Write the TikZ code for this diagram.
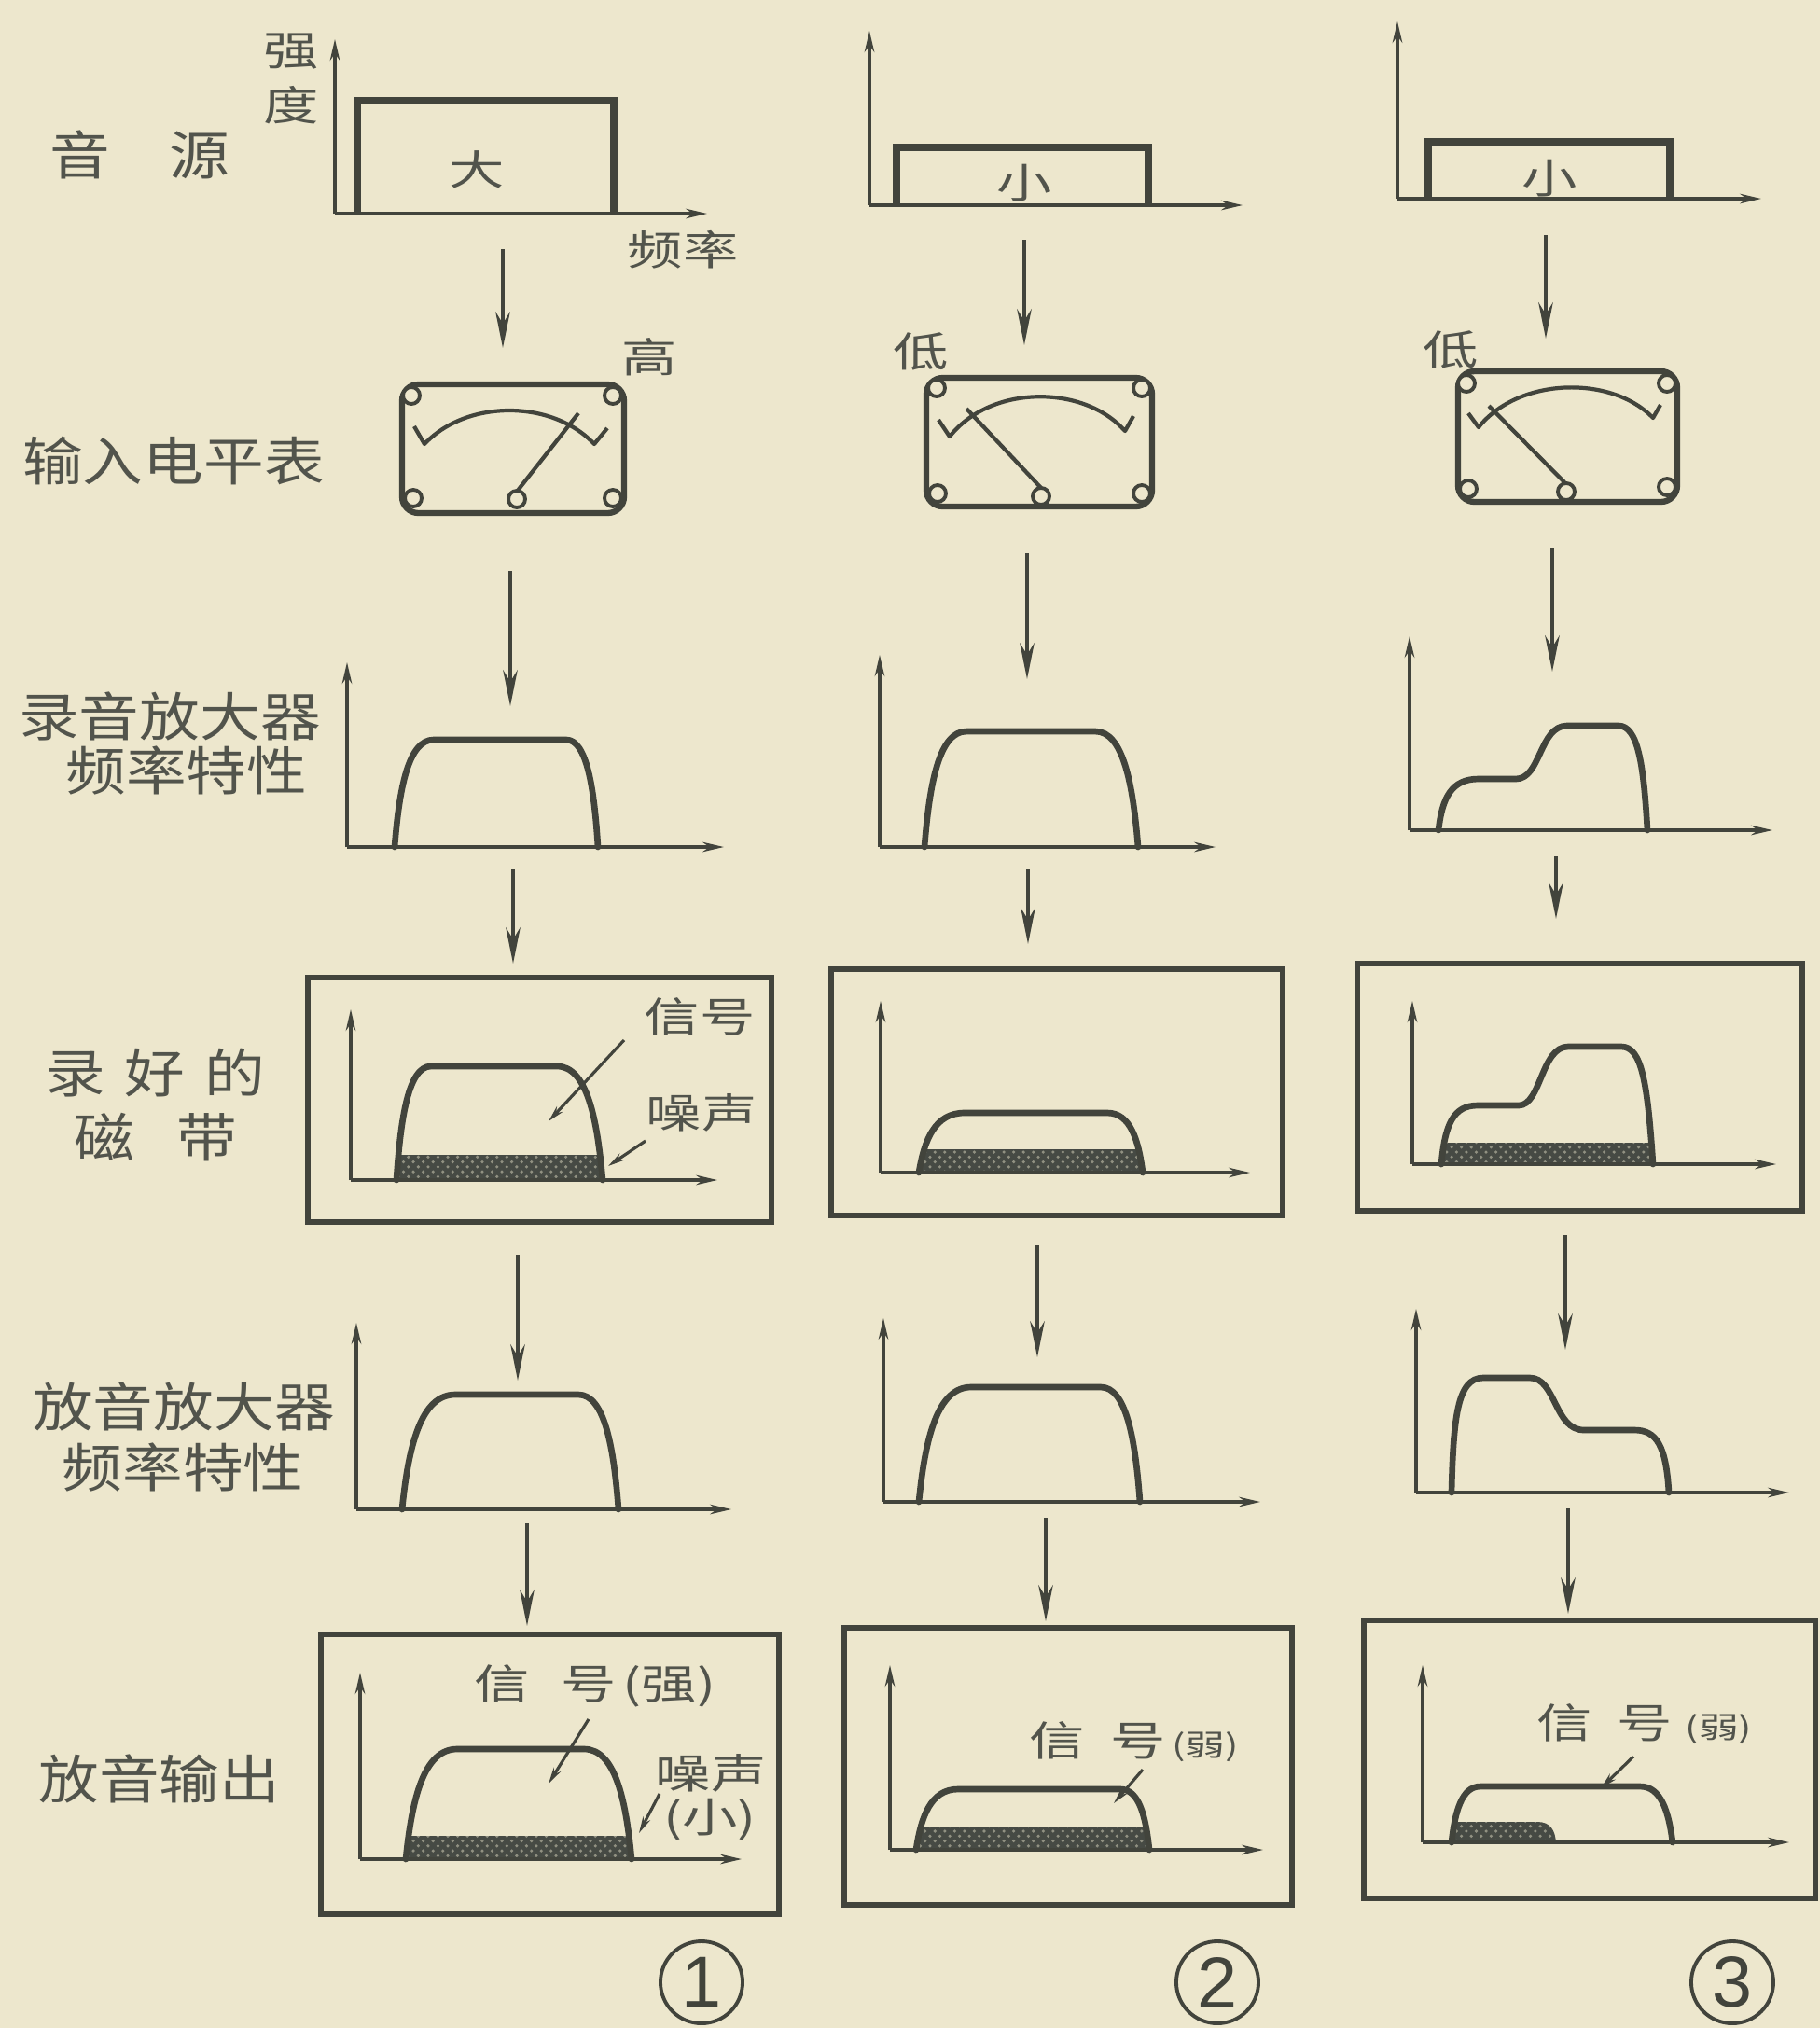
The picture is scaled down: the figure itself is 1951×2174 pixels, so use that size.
\documentclass[tikz,border=0pt]{standalone}
\usepackage{fontspec}
\usepackage{graphicx}
\setmainfont{Liberation Sans}
\newfontfamily\cjk{Noto Sans CJK SC}
\usetikzlibrary{arrows.meta,patterns}
\definecolor{paper}{RGB}{237,231,205}
\definecolor{ink}{RGB}{66,68,60}
\definecolor{txt}{RGB}{82,84,76}
\definecolor{noisec}{RGB}{70,74,68}
\newcommand\rowtext[1]{\scalebox{1.15}[1]{#1}}
\newcommand\smtext[1]{\scalebox{1.35}[1]{#1}}
\newcommand\tinyp[1]{{\fontsize{9pt}{9pt}\selectfont #1}}
% band-pass curve: x0 base-left, x1 top-left, x2 top-right, x3 base-right, yt top, yb base
\newcommand\bandcurve[6]{(#1,#6) .. controls ({#1+0.12*(#2-#1)},{#5+0.45*(#6-#5)}) and ({#1+0.35*(#2-#1)},#5) .. (#2,#5) -- (#3,#5) .. controls ({#4-0.35*(#4-#3)},#5) and ({#4-0.12*(#4-#3)},{#5+0.45*(#6-#5)}) .. (#4,#6)}
\tikzset{
  axis/.style={ink, line width=0.9pt, -{Stealth[length=6.5pt,width=3pt]}},
  curve/.style={ink, line width=1.9pt, line cap=round, line join=round},
  frame/.style={ink, line width=1.5pt},
  srcbox/.style={ink, line width=2.1pt},
  meterframe/.style={ink, line width=1.8pt, rounded corners=5pt},
  flow/.style={ink, line width=1.3pt, -{Stealth[length=11pt,width=4.4pt]}},
  ptr/.style={ink, line width=0.9pt, -{Stealth[length=5pt,width=2.4pt]}},
  knob/.style={ink, line width=1.1pt, fill=paper},
  meterscale/.style={ink, line width=1.2pt, line join=round},
  needle/.style={ink, line width=1.2pt},
  noisefill/.style={fill=noisec},
  noisetex/.style={pattern=crosshatch dots, pattern color=paper!45!noisec},
  lab/.style={text=txt, font=\cjk\fontsize{16pt}{18pt}\selectfont, inner sep=0pt},
  sml/.style={text=txt, font=\cjk\fontsize{12.5pt}{14pt}\selectfont, inner sep=0pt},
  numc/.style={circle, draw=ink, line width=1.1pt, minimum size=0.88cm, text=ink,
               font=\fontsize{22pt}{22pt}\selectfont, inner sep=0pt},
}
\begin{document}
\begin{tikzpicture}[x=0.01cm, y=-0.01cm]
\useasboundingbox (0,0) rectangle (1951,2174);
\fill[paper] (0,0) rectangle (1951,2174);

% ---------------- row labels ----------------
\node[lab] (lSrc)   at (150,166)  {\rowtext{音\hspace{0.55cm}源}};
\node[lab] (lMeter) at (186,494)  {\rowtext{输入电平表}};
\node[lab] (lRecA)  at (182,768)  {\rowtext{录音放大器}};
\node[lab] (lRecB)  at (200,826)  {\rowtext{频率特性}};
\node[lab] (lTapeA) at (166,1150) {\rowtext{录\hspace{0.18cm}好\hspace{0.18cm}的}};
\node[lab] (lTapeB) at (167,1219) {\rowtext{磁\hspace{0.4cm}带}};
\node[lab] (lPlayA) at (197,1508) {\rowtext{放音放大器}};
\node[lab] (lPlayB) at (196,1573) {\rowtext{频率特性}};
\node[lab] (lOut)   at (171,1907) {\rowtext{放音输出}};

% ================= column 1 =================
% source
\draw[axis] (359,229) -- (359,42);
\draw[axis] (359,229) -- (758,229);
\draw[srcbox] (383,229) -- (383,108) -- (658,108) -- (658,229);
\node[sml] (tQiang) at (312,55)  {\smtext{强}};
\node[sml] (tDu)    at (312,113) {\smtext{度}};
\node[sml] (tDa)    at (511,182) {\smtext{大}};
\node[sml] (tPinlv) at (732,268) {\smtext{频率}};
\coordinate (a11) at (539,267); \coordinate (b11) at (539,373);
\draw[flow] (a11) -- (b11);
\node[sml] (tGao) at (696,383) {\smtext{高}};
% meter
\draw[meterframe] (431,412) rectangle (669,550);
\draw[meterscale] (444,457) -- (455,476) .. controls (500,428) and (592,428) .. (637,476) -- (651,459);
\draw[needle] (554,527) -- (620,443);
\foreach \p in {(441,424),(443,534),(657,534),(657,424),(554,535)} \draw[knob] \p circle (9);
\coordinate (a12) at (547,612); \coordinate (b12) at (547,757);
\draw[flow] (a12) -- (b12);
% record amp
\draw[axis] (372,908) -- (372,710);
\draw[axis] (372,908) -- (776,908);
\draw[curve] \bandcurve{423}{465}{607}{641}{793}{908};
\coordinate (a13) at (550,932); \coordinate (b13) at (550,1033);
\draw[flow] (a13) -- (b13);
% tape
\draw[frame] (330,1048) rectangle (827,1310);
\begin{scope}
  \clip \bandcurve{425}{462}{597}{646}{1143}{1265} -- cycle;
  \fill[noisefill] (400,1238) rectangle (670,1266);
  \fill[noisetex] (400,1238) rectangle (670,1266);
\end{scope}
\draw[axis] (376,1265) -- (376,1082);
\draw[axis] (376,1265) -- (769,1265);
\draw[curve] \bandcurve{425}{462}{597}{646}{1143}{1265};
\node[sml] (tSig1) at (750,1090) {\smtext{信号}};
\node[sml] (tNoi1) at (752,1193) {\smtext{噪声}};
\coordinate (ps1) at (669,1115); \coordinate (pe1) at (588,1202);
\draw[ptr] (ps1) -- (pe1);
\coordinate (pn1) at (692,1223); \coordinate (qn1) at (652,1250);
\draw[ptr] (pn1) -- (qn1);
\coordinate (a14) at (555,1345); \coordinate (b14) at (555,1480);
\draw[flow] (a14) -- (b14);
% playback amp
\draw[axis] (382,1618) -- (382,1418);
\draw[axis] (382,1618) -- (784,1618);
\draw[curve] \bandcurve{431}{488}{620}{663}{1495}{1618};
\coordinate (a15) at (565,1633); \coordinate (b15) at (565,1743);
\draw[flow] (a15) -- (b15);
% output
\draw[frame] (344,1752) rectangle (835,2052);
\begin{scope}
  \clip \bandcurve{435}{490}{626}{677}{1875}{1993} -- cycle;
  \fill[noisefill] (410,1968) rectangle (700,1994);
  \fill[noisetex] (410,1968) rectangle (700,1994);
\end{scope}
\draw[axis] (386,1993) -- (386,1793);
\draw[axis] (386,1993) -- (795,1993);
\draw[curve] \bandcurve{435}{490}{626}{677}{1875}{1993};
\node[sml] (oSig1) at (638,1807) {\smtext{信\hspace{0.25cm}号\hspace{0.05cm}(强)}};
\node[sml] (oNoi1) at (762,1901) {\smtext{噪声}};
\node[sml] (oXiao1) at (761,1951) {\smtext{(小)}};
\coordinate (ps6) at (631,1843); \coordinate (pe6) at (588,1912);
\draw[ptr] (ps6) -- (pe6);
\coordinate (pn6) at (707,1923); \coordinate (qn6) at (685,1965);
\draw[ptr] (pn6) -- (qn6);
\node[numc] (n1) at (752,2125) {1};

% ================= column 2 =================
\draw[axis] (932,220) -- (932,33);
\draw[axis] (932,220) -- (1332,220);
\draw[srcbox] (961,220) -- (961,158) -- (1231,158) -- (1231,220);
\node[sml] (tXiao2) at (1098,196) {\smtext{小}};
\coordinate (a21) at (1098,257); \coordinate (b21) at (1098,370);
\draw[flow] (a21) -- (b21);
\node[sml] (tDi2) at (987,377) {\smtext{低}};
% meter
\draw[meterframe] (993,405) rectangle (1235,543);
\draw[meterscale] (1006,450) -- (1018,468) .. controls (1062,412) and (1162,412) .. (1206,462) -- (1215,446);
\draw[needle] (1116,523) -- (1036,438);
\foreach \p in {(1004,416),(1005,529),(1224,529),(1224,416),(1116,532)} \draw[knob] \p circle (9);
\coordinate (a22) at (1101,593); \coordinate (b22) at (1101,728);
\draw[flow] (a22) -- (b22);
% record amp
\draw[axis] (943,908) -- (943,702);
\draw[axis] (943,908) -- (1303,908);
\draw[curve] \bandcurve{991}{1036}{1174}{1220}{784}{908};
\coordinate (a23) at (1102,932); \coordinate (b23) at (1102,1012);
\draw[flow] (a23) -- (b23);
% tape
\draw[frame] (891,1039) rectangle (1375,1303);
\begin{scope}
  \clip \bandcurve{985}{1034}{1187}{1225}{1193}{1257} -- cycle;
  \fill[noisefill] (960,1232) rectangle (1250,1258);
  \fill[noisetex] (960,1232) rectangle (1250,1258);
\end{scope}
\draw[axis] (944,1257) -- (944,1073);
\draw[axis] (944,1257) -- (1340,1257);
\draw[curve] \bandcurve{985}{1034}{1187}{1225}{1193}{1257};
\coordinate (a24) at (1112,1335); \coordinate (b24) at (1112,1455);
\draw[flow] (a24) -- (b24);
% playback amp
\draw[axis] (947,1610) -- (947,1413);
\draw[axis] (947,1610) -- (1351,1610);
\draw[curve] \bandcurve{985}{1041}{1180}{1222}{1487}{1610};
\coordinate (a25) at (1121,1627); \coordinate (b25) at (1121,1738);
\draw[flow] (a25) -- (b25);
% output
\draw[frame] (905,1745) rectangle (1385,2042);
\begin{scope}
  \clip \bandcurve{982}{1027}{1201}{1232}{1918}{1983} -- cycle;
  \fill[noisefill] (960,1958) rectangle (1260,1984);
  \fill[noisetex] (960,1958) rectangle (1260,1984);
\end{scope}
\draw[axis] (954,1983) -- (954,1785);
\draw[axis] (954,1983) -- (1354,1983);
\draw[curve] \bandcurve{982}{1027}{1201}{1232}{1918}{1983};
\node[sml] (oSig2) at (1216,1867) {\smtext{信\hspace{0.2cm}号\hspace{0.05cm}\tinyp{(弱)}}};
\coordinate (ps26) at (1225,1897); \coordinate (pe26) at (1194,1933);
\draw[ptr] (ps26) -- (pe26);
\node[numc] (n2) at (1305,2125) {2};

% ================= column 3 =================
\draw[axis] (1498,213) -- (1498,23);
\draw[axis] (1498,213) -- (1888,213);
\draw[srcbox] (1531,213) -- (1531,152) -- (1790,152) -- (1790,213);
\node[sml] (tXiao3) at (1661,191) {\smtext{小}};
\coordinate (a31) at (1657,252); \coordinate (b31) at (1657,363);
\draw[flow] (a31) -- (b31);
\node[sml] (tDi3) at (1555,375) {\smtext{低}};
% meter
\draw[meterframe] (1563,398) rectangle (1798,538);
\draw[meterscale] (1574,443) -- (1585,458) .. controls (1628,404) and (1728,402) .. (1772,448) -- (1780,434);
\draw[needle] (1679,519) -- (1596,435);
\foreach \p in {(1572,411),(1574,524),(1787,522),(1787,411),(1679,527)} \draw[knob] \p circle (9);
\coordinate (a32) at (1664,587); \coordinate (b32) at (1664,720);
\draw[flow] (a32) -- (b32);
% record amp
\draw[axis] (1511,890) -- (1511,682);
\draw[axis] (1511,890) -- (1900,890);
\draw[curve] (1542,890) .. controls (1546,855) and (1556,835) .. (1585,835) -- (1625,835)
   .. controls (1652,835) and (1650,778) .. (1680,778) -- (1735,778)
   .. controls (1756,778) and (1762,820) .. (1766,890);
\coordinate (a33) at (1668,918); \coordinate (b33) at (1668,985);
\draw[flow] (a33) -- (b33);
% tape
\draw[frame] (1455,1033) rectangle (1932,1298);
\begin{scope}
  \clip (1545,1248) .. controls (1549,1205) and (1558,1185) .. (1584,1185) -- (1628,1185)
   .. controls (1652,1185) and (1652,1122) .. (1681,1122) -- (1738,1122)
   .. controls (1760,1122) and (1766,1160) .. (1772,1248) -- cycle;
  \fill[noisefill] (1520,1225) rectangle (1800,1249);
  \fill[noisetex] (1520,1225) rectangle (1800,1249);
\end{scope}
\draw[axis] (1514,1248) -- (1514,1073);
\draw[axis] (1514,1248) -- (1904,1248);
\draw[curve] (1545,1248) .. controls (1549,1205) and (1558,1185) .. (1584,1185) -- (1628,1185)
   .. controls (1652,1185) and (1652,1122) .. (1681,1122) -- (1738,1122)
   .. controls (1760,1122) and (1766,1160) .. (1772,1248);
\coordinate (a34) at (1678,1324); \coordinate (b34) at (1678,1447);
\draw[flow] (a34) -- (b34);
% playback amp
\draw[axis] (1518,1600) -- (1518,1403);
\draw[axis] (1518,1600) -- (1918,1600);
\draw[curve] (1556,1600) .. controls (1558,1520) and (1562,1477) .. (1590,1477) -- (1640,1477)
   .. controls (1668,1477) and (1666,1533) .. (1698,1533) -- (1752,1533)
   .. controls (1776,1533) and (1786,1550) .. (1789,1600);
\coordinate (a35) at (1681,1617); \coordinate (b35) at (1681,1730);
\draw[flow] (a35) -- (b35);
% output
\draw[frame] (1462,1737) rectangle (1946,2035);
\begin{scope}
  \clip \bandcurve{1556}{1587}{1758}{1793}{1915}{1975} -- cycle;
  \fill[noisefill] (1530,1975) -- (1530,1953) -- (1648,1953) .. controls (1662,1953) and (1667,1962) .. (1668,1975) -- cycle;
  \fill[noisetex] (1530,1975) -- (1530,1953) -- (1648,1953) .. controls (1662,1953) and (1667,1962) .. (1668,1975) -- cycle;
\end{scope}
\draw[axis] (1525,1975) -- (1525,1785);
\draw[axis] (1525,1975) -- (1918,1975);
\draw[curve] \bandcurve{1556}{1587}{1758}{1793}{1915}{1975};
\node[sml] (oSig3) at (1763,1848) {\smtext{信\hspace{0.2cm}号\hspace{0.1cm}\tinyp{(弱)}}};
\coordinate (ps36) at (1751,1883); \coordinate (pe36) at (1716,1917);
\draw[ptr] (ps36) -- (pe36);
\node[numc] (n3) at (1857,2125) {3};
\end{tikzpicture}
\end{document}
